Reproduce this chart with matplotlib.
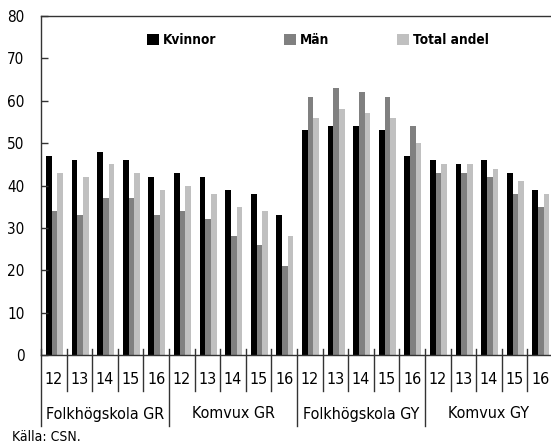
import matplotlib
matplotlib.use("Agg")
import matplotlib.pyplot as plt
import matplotlib.transforms as mtransforms
import numpy as np

plt.rcParams['font.family'] = ['DejaVu Sans']
plt.rcParams['font.stretch'] = 'condensed'

groups = ["Folkhögskola GR", "Komvux GR", "Folkhögskola GY", "Komvux GY"]
years = ["12", "13", "14", "15", "16"]
series_names = ["Kvinnor", "Män", "Total andel"]
kvinnor = [47, 46, 48, 46, 42, 43, 42, 39, 38, 33, 53, 54, 54, 53, 47, 46, 45, 46, 43, 39]
man = [34, 33, 37, 37, 33, 34, 32, 28, 26, 21, 61, 63, 62, 61, 54, 43, 43, 42, 38, 35]
total = [43, 42, 45, 43, 39, 40, 38, 35, 34, 28, 56, 58, 57, 56, 50, 45, 45, 44, 41, 38]
colors = ["#000000", "#808080", "#c0c0c0"]
source = "Källa: CSN."

W, H = 551, 447
fig = plt.figure(figsize=(W / 100, H / 100), dpi=100)
ax = fig.add_axes([41 / W, 1 - 355 / H, (553 - 41) / W, (355 - 16) / H])

n = len(kvinnor)
x = np.arange(n) + 0.5
bw = 0.222
for k, (vals, c, name) in enumerate(zip([kvinnor, man, total], colors, series_names)):
    ax.bar(x + (k - 1) * bw + 0.03, vals, width=bw, color=c, label=name, linewidth=0)

ax.set_xlim(0, n)
ax.set_ylim(0, 80)
ax.set_yticks(range(0, 81, 10))
ax.tick_params(axis='y', direction='in', length=5, width=1, pad=12, labelsize=11, color='#333333')
ax.set_xticks([])

for s in ['left', 'top', 'bottom']:
    ax.spines[s].set_color('#333333')
    ax.spines[s].set_linewidth(1.0)
ax.spines['right'].set_visible(False)

trans = mtransforms.blended_transform_factory(ax.transData, fig.transFigure)
ngr = len(years)
for b in range(0, n):
    if b % ngr == 0:
        ax.plot([b, b], [1 - 349 / H, 1 - 426 / H], transform=trans, color='#333333', lw=1.0, clip_on=False)
    else:
        ax.plot([b, b], [1 - 349 / H, 1 - 391 / H], transform=trans, color='#333333', lw=1.0, clip_on=False)

for i, lab in enumerate(years * len(groups)):
    ax.text(x[i], 1 - 379 / H, lab, transform=trans, ha='center', va='center', fontsize=11.5)

for g, name in enumerate(groups):
    ax.text(g * ngr + ngr / 2, 1 - 414 / H, name, transform=trans, ha='center', va='center', fontsize=11.5)

fig.text(12 / W, 1 - 437 / H, source, ha='left', va='center', fontsize=10)

leg = ax.legend(loc='center left', bbox_to_anchor=(147 / W, 1 - 40 / H), bbox_transform=fig.transFigure,
                ncol=3, frameon=False, borderpad=0, borderaxespad=0, handlelength=0.85, handleheight=0.85,
                handletextpad=0.3, columnspacing=5.0, prop={'weight': 'bold', 'size': 9.8})

fig.savefig("out.png", dpi=100)
